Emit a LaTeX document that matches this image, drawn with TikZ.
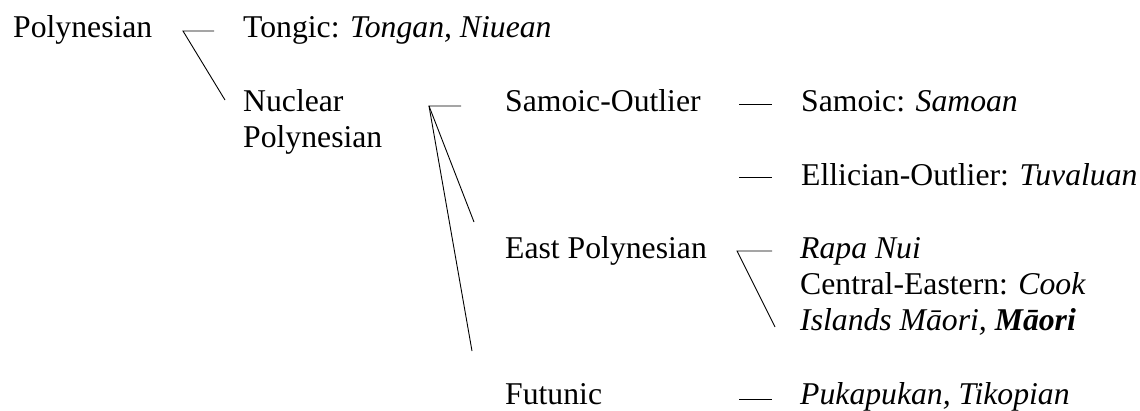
\documentclass[tikz,border=0pt]{standalone}
\usepackage{fontspec}
\setmainfont{Liberation Serif}
\begin{document}
\begin{tikzpicture}[x=1pt,y=-1pt,
  lbl/.style={anchor=base west,inner sep=0pt,font=\fontsize{31.7}{36}\selectfont},
  link/.style={line width=0.9pt,line cap=butt}]
\useasboundingbox (0,0) rectangle (1140,410);

% language labels
\node[lbl] (poly) at (13,37) {Polynesian};
\node[lbl] (tong) at (243,37) {Tongic: \textit{Tongan, Niuean}};
\node[lbl] (nuc1) at (243,111) {Nuclear};
\node[lbl] (nuc2) at (243,147) {Polynesian};
\node[lbl] (samout) at (505,111) {Samoic-Outlier};
\node[lbl] (samoic) at (801,111) {Samoic: \textit{Samoan}};
\node[lbl] (ellic) at (801,185) {Ellician-Outlier: \textit{Tuvaluan}};
\node[lbl] (eastp) at (505,258) {East Polynesian};
\node[lbl] (rapa) at (800,258) {\textit{Rapa Nui}};
\node[lbl] (ceast) at (800,294) {Central-Eastern: \textit{Cook}};
\node[lbl] (isl) at (800,330) {\textit{Islands Māori,} \textbf{\textit{Māori}}};
\node[lbl] (futu) at (505,404) {Futunic};
\node[lbl] (puka) at (800,404) {\textit{Pukapukan, Tikopian}};

% branch points and line ends
\coordinate (b1) at (183,31);
\coordinate (b1a) at (214,31);
\coordinate (b1b) at (225,100);
\coordinate (b2) at (429,106);
\coordinate (b2a) at (461,106);
\coordinate (b2b) at (474,222);
\coordinate (b2c) at (472,351);
\coordinate (s1) at (739,104);
\coordinate (s1a) at (772,104);
\coordinate (s2) at (739,177);
\coordinate (s2a) at (772,177);
\coordinate (b3) at (737,251);
\coordinate (b3a) at (772,251);
\coordinate (b3b) at (775,327);
\coordinate (f1) at (739,399);
\coordinate (f1a) at (772,399);

% tree branches
\draw[link] (b1a) -- (b1) -- (b1b);
\draw[link] (b2a) -- (b2) -- (b2b);
\draw[link] (b2) -- (b2c);
\draw[link] (s1) -- (s1a);
\draw[link] (s2) -- (s2a);
\draw[link] (b3a) -- (b3) -- (b3b);
\draw[link] (f1) -- (f1a);
\end{tikzpicture}
\end{document}
